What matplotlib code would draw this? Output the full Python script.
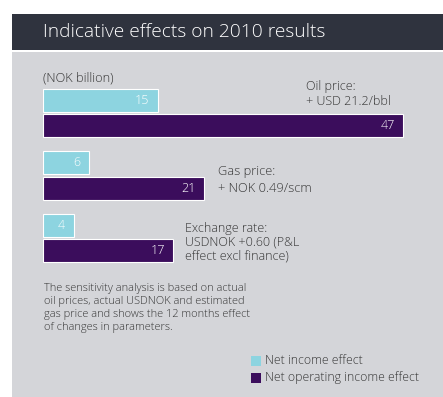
import matplotlib
matplotlib.use("Agg")
import matplotlib.pyplot as plt
from matplotlib.patches import Rectangle

plt.rcParams['font.family'] = ['Open Sans', 'DejaVu Sans']
plt.rcParams['font.weight'] = 'light'

# sensitivities, NOK billion
factors = ["Oil price", "Gas price", "Exchange rate"]
net_income = [15, 6, 4]
net_operating = [47, 21, 17]
factor_labels = ["Oil price:\n+ USD 21.2/bbl",
                 "Gas price:\n+ NOK 0.49/scm",
                 "Exchange rate:\nUSDNOK +0.60 (P&L\neffect excl finance)"]

W, H = 443, 397
CYAN = "#8dd4e0"
PURPLE = "#3b0d5c"
HEADER = "#2f333e"
PANEL = "#d4d5d9"
TXT = "#363636"

fig = plt.figure(figsize=(W / 100, H / 100), dpi=100)
fig.patch.set_facecolor("white")


def fx(x):
    return x / W


def fy(y):
    return 1 - y / H


# header band and grey panel
fig.add_artist(Rectangle((fx(12), fy(50)), fx(431), 36 / H, transform=fig.transFigure,
                         facecolor=HEADER, edgecolor="none", zorder=0))
fig.add_artist(Rectangle((fx(12), 0), fx(431), fy(52), transform=fig.transFigure,
                         facecolor=PANEL, edgecolor="none", zorder=0))
fig.text(fx(43), fy(32), "Indicative effects on 2010 results", color="white",
         fontsize=13.8, va="center", ha="left")

# bar area
px_per_unit = 360 / 47
ax = fig.add_axes([fx(43), 1 - 281.75 / H, 400 / W, 212.5 / H])
ax.set_xlim(0, 400 / px_per_unit)
ax.set_ylim(2.7, -0.7)
ax.axis("off")

pos = list(range(len(factors)))
off = 0.205
h = 0.37
ax.barh([p - off for p in pos], net_income, height=h, color=CYAN,
        edgecolor="white", linewidth=0.8)
ax.barh([p + off for p in pos], net_operating, height=h, color=PURPLE,
        edgecolor="white", linewidth=0.8)

for p, a, b in zip(pos, net_income, net_operating):
    ax.annotate(str(a), (a, p - off), xytext=(-6, 0), textcoords="offset points",
                ha="right", va="center", color="white", fontsize=9)
    ax.annotate(str(b), (b, p + off), xytext=(-6, 0), textcoords="offset points",
                ha="right", va="center", color="white", fontsize=9)

# factor descriptions beside the bars
fig.text(fx(306), fy(94), factor_labels[0], fontsize=9, color=TXT,
         va="center", ha="left", linespacing=1.15)
fig.text(fx(218), fy(180), factor_labels[1], fontsize=9.3, color=TXT,
         va="center", ha="left", linespacing=1.5)
fig.text(fx(185), fy(242), factor_labels[2], fontsize=9, color=TXT,
         va="center", ha="left", linespacing=1.05)

fig.text(fx(43), fy(78), "(NOK billion)", fontsize=9.2, color=TXT,
         va="center", ha="left")

note = ("The sensitivity analysis is based on actual\n"
        "oil prices, actual USDNOK and estimated\n"
        "gas price and shows the 12 months effect\n"
        "of changes in parameters.")
fig.text(fx(44), fy(308), note, fontsize=7.9, color=TXT, va="center",
         ha="left", linespacing=1.22)

# legend
for yy, col, lab in [(361, CYAN, "Net income effect"),
                     (378, PURPLE, "Net operating income effect")]:
    fig.add_artist(Rectangle((fx(251), fy(yy + 5)), 10 / W, 10 / H,
                             transform=fig.transFigure, facecolor=col,
                             edgecolor="none"))
    fig.text(fx(265), fy(yy), lab, fontsize=8.8, color=TXT, va="center", ha="left")

fig.savefig("out.png", dpi=100)
